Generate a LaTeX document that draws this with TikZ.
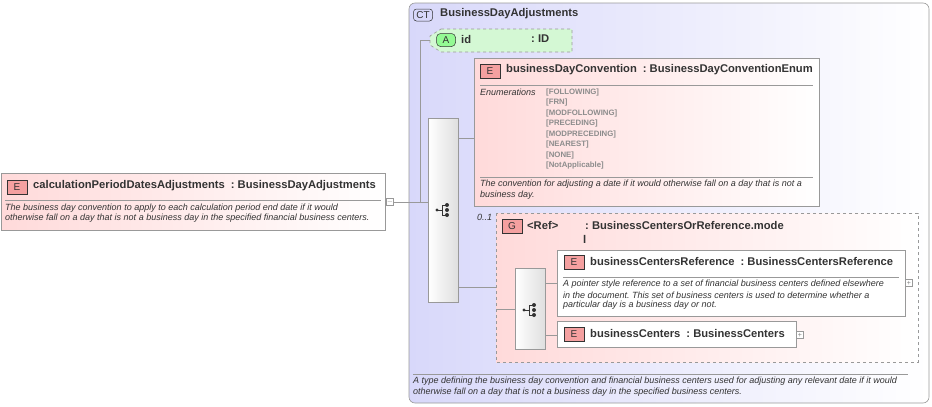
\documentclass[tikz,border=0pt]{standalone}
\usepackage{fontspec}
\setmainfont{Liberation Sans}
\frenchspacing
\usetikzlibrary{shapes.geometric}
\definecolor{ln}{HTML}{999999}
\definecolor{ct}{HTML}{D8D8FA}
\definecolor{el}{HTML}{FFDADA}
\definecolor{badge}{HTML}{F4A0A0}
\definecolor{gr}{HTML}{D4F8D4}
\definecolor{tx}{HTML}{333333}
\tikzset{
 x=1pt,y=-1pt,
 conn/.style={draw=ln,line width=0.5pt},
 elbox/.style={draw=ln,line width=0.6pt,left color=el,right color=white},
 ttl/.style={anchor=west,font=\bfseries\fontsize{11.2}{12}\selectfont,text=tx,inner sep=0},
 dsc/.style={anchor=west,font=\itshape\fontsize{9}{10}\selectfont,text=tx,inner sep=0},
 enm/.style={anchor=west,font=\bfseries\fontsize{7.8}{9}\selectfont,text=gray!90,inner sep=0},
 bdg/.style={draw=tx,line width=0.5pt,fill=badge,font=\fontsize{10}{10}\selectfont,text=tx,inner sep=0,minimum width=20,minimum height=14},
 seqbox/.style={draw=ln,line width=0.6pt,left color=white,right color=gray!25},
 plusbox/.style={draw=ln,line width=0.4pt,fill=white,minimum size=7,inner sep=0,font=\fontsize{7}{7}\selectfont,text=gray},
}
\newcommand{\cs}{\hspace{6pt}: }
\newcommand{\seqicon}[2]{%
 \draw[tx,line width=0.8] (#1-7,#2)--(#1-2,#2) (#1-2,#2-5)--(#1-2,#2+5) (#1-2,#2-5)--(#1+3,#2-5) (#1-2,#2+5)--(#1+3,#2+5);
 \fill[tx] (#1-7,#2) circle (1.6) (#1+3,#2-5) circle (2) (#1+3,#2) circle (2) (#1+3,#2+5) circle (2);}
\begin{document}
\begin{tikzpicture}
\useasboundingbox (0,0) rectangle (932,407);
% left element
\draw[elbox] (1,173) rectangle (385,230);
\node[bdg] (b0) at (17,187) {E};
\node[ttl] (t0) at (33,186) {calculationPeriodDatesAdjustments\cs BusinessDayAdjustments};
\draw[ln,line width=0.4] (5,200)--(381,200);
\node[dsc] (d0) at (5,208) {The business day convention to apply to each calculation period end date if it would};
\node[dsc] at (5,218) {otherwise fall on a day that is not a business day in the specified financial business centers.};
\node[plusbox] (m0) at (390,202) {$-$};
% CT box
\draw[draw=ln,line width=0.6,rounded corners=6,left color=ct,right color=white] (409,3) rectangle (929,403);
\node[bdg,fill=ct,rounded corners=3,minimum width=19,minimum height=12] (bct) at (423,15) {CT};
\node[ttl] (tct) at (440,14) {BusinessDayAdjustments};
\draw[ln,line width=0.4] (413,374)--(908,374);
\node[dsc] at (413,381) {A type defining the business day convention and financial business centers used for adjusting any relevant date if it would};
\node[dsc] at (413,392) {otherwise fall on a day that is not a business day in the specified business centers.};
% connectors main
\draw[conn] (m0.east)--(409,202);
\draw[conn] (409,202)--(428,202);
\draw[conn] (420,202)--(420,40)--(432,40);
% attribute
\draw[draw=ln,dashed,line width=0.6,fill=gr] (441,29)--(572,29)--(572,52)--(441,52)--(430,45)--(430,36)--cycle;
\node[bdg,fill=gr!70!green,rounded corners=4,minimum width=19,minimum height=13] (ba) at (446,40) {A};
\node[ttl] (ta) at (461,39) {id};
\node[ttl] at (531,39) {: ID};
% sequence
\draw[seqbox] (428,118) rectangle (458,302);
\seqicon{444}{210}
\draw[conn] (458,138)--(474,138);
\draw[conn] (458,287)--(496,287);
% businessDayConvention
\draw[elbox] (474,58) rectangle (819,206);
\node[bdg] (b1) at (490,71) {E};
\node[ttl] (t1) at (506,70) {businessDayConvention\cs BusinessDayConventionEnum};
\draw[ln,line width=0.4] (480,85)--(813,85);
\node[dsc] at (480,92) {Enumerations};
\foreach \t [count=\i] in {[FOLLOWING],[FRN],[MODFOLLOWING],[PRECEDING],[MODPRECEDING],[NEAREST],[NONE],[NotApplicable]}
  \node[enm] at (546,81.5+10.5*\i) {\t};
\draw[ln,line width=0.4] (480,177)--(813,177);
\node[dsc] at (480,184) {The convention for adjusting a date if it would otherwise fall on a day that is not a};
\node[dsc] at (480,195) {business day.};
% group
\node[dsc] at (477,217) {0..1};
\draw[draw=ln,dashed,line width=0.7,left color=el,right color=white] (496,213) rectangle (918,362);
\node[bdg] (bg) at (512,226) {G};
\node[ttl] (tg) at (527,225) {<Ref>};
\node[ttl] at (585,225) {: BusinessCentersOrReference.mode};
\node[ttl] at (583,239) {l};
\draw[conn] (496,309)--(515,309);
\draw[seqbox] (515,268) rectangle (545,349);
\seqicon{531}{310}
\draw[conn] (545,283)--(557,283);
\draw[conn] (545,335)--(557,335);
% businessCentersReference
\draw[draw=ln,line width=0.6,fill=white] (557,250) rectangle (905,316);
\node[bdg] (b2) at (574,262) {E};
\node[ttl] (t2) at (590,261) {businessCentersReference\cs BusinessCentersReference};
\draw[ln,line width=0.4] (563,277)--(899,277);
\node[dsc] at (563,284) {A pointer style reference to a set of financial business centers defined elsewhere};
\node[dsc] at (563,295) {in the document. This set of business centers is used to determine whether a};
\node[dsc] at (563,305) {particular day is a business day or not.};
\node[plusbox] (p2) at (909,283) {+};
% businessCenters
\draw[draw=ln,line width=0.6,fill=white] (557,321) rectangle (796,347);
\node[bdg] (b3) at (574,334) {E};
\node[ttl] (t3) at (590,333) {businessCenters\cs BusinessCenters};
\node[plusbox] (p3) at (800,335) {+};
\end{tikzpicture}
\end{document}
